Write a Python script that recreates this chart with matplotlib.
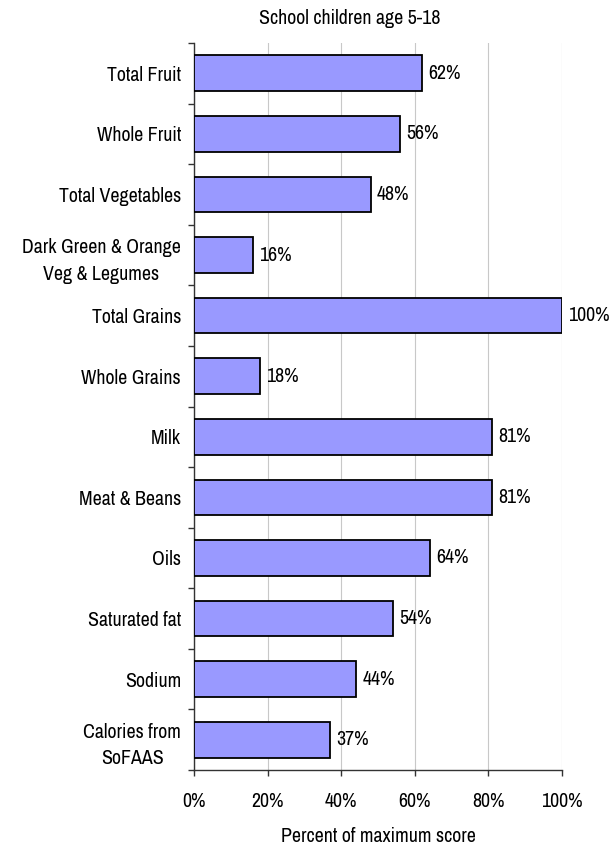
import matplotlib
matplotlib.use("Agg")
import matplotlib.pyplot as plt
from matplotlib import font_manager as fm
import numpy as np

categories = ["Total Fruit", "Whole Fruit", "Total Vegetables",
              "Dark Green & Orange\nVeg & Legumes", "Total Grains", "Whole Grains",
              "Milk", "Meat & Beans", "Oils", "Saturated fat", "Sodium",
              "Calories from\nSoFAAS"]
values = [62, 56, 48, 16, 100, 18, 81, 81, 64, 54, 44, 37]
xticks = [0, 20, 40, 60, 80, 100]
xtick_labels = ["0%", "20%", "40%", "60%", "80%", "100%"]
title = "School children age 5-18"
xlabel = "Percent of maximum score"

names = {f.name for f in fm.fontManager.ttflist}
family, fs = "Liberation Sans", 12
for cand, size in [("Liberation Sans Narrow", 14.3), ("Archivo Narrow", 14.3),
                   ("Roboto Condensed", 12.8)]:
    if cand in names:
        family, fs = cand, size
        break
plt.rcParams["font.family"] = [family, "DejaVu Sans"]

W, H = 613, 848
fig = plt.figure(figsize=(W / 100, H / 100), dpi=100)
ax = fig.add_axes([194 / W, (H - 770) / H, (562 - 194) / W, (770 - 43) / H])

n = len(categories)
y = np.arange(n)
ax.barh(y, values, height=0.59, color="#9999FF", edgecolor="black", linewidth=1.3, zorder=3)

for yi, v in zip(y, values):
    ax.annotate(f"{v}%", (v, yi), xytext=(4.5, 0), textcoords="offset points",
                va="center", ha="left", fontsize=fs, color="black")

ax.set_xlim(0, 100)
ax.set_ylim(n - 0.5, -0.5)
ax.set_xticks(xticks)
ax.set_xticklabels(xtick_labels, fontsize=fs)
ax.set_yticks(y)
ax.set_yticklabels(categories, fontsize=fs, ha="right", multialignment="center",
                   linespacing=1.5)
ax.set_yticks(np.arange(n + 1) - 0.5, minor=True)
ax.tick_params(axis="y", which="major", length=0, pad=9.4)
ax.tick_params(axis="y", which="minor", length=4.5, width=1, color="#333333", direction="out")
ax.tick_params(axis="x", which="major", length=4, width=1, color="#333333", direction="out", pad=12)

ax.grid(axis="x", color="#C8C8C8", linewidth=0.8, zorder=0)
ax.set_axisbelow(True)
for s in ["top", "right"]:
    ax.spines[s].set_visible(False)
for s in ["left", "bottom"]:
    ax.spines[s].set_color("#333333")
    ax.spines[s].set_linewidth(1)

ax.set_xlabel(xlabel, fontsize=fs)
ax.xaxis.set_label_coords(0.5, (770 - 837) / 727)
ax.xaxis.label.set_va("center")

fig.text(350 / W, 1 - 18 / H, title, ha="center", va="center", fontsize=fs)

fig.savefig("out.png", dpi=100)
